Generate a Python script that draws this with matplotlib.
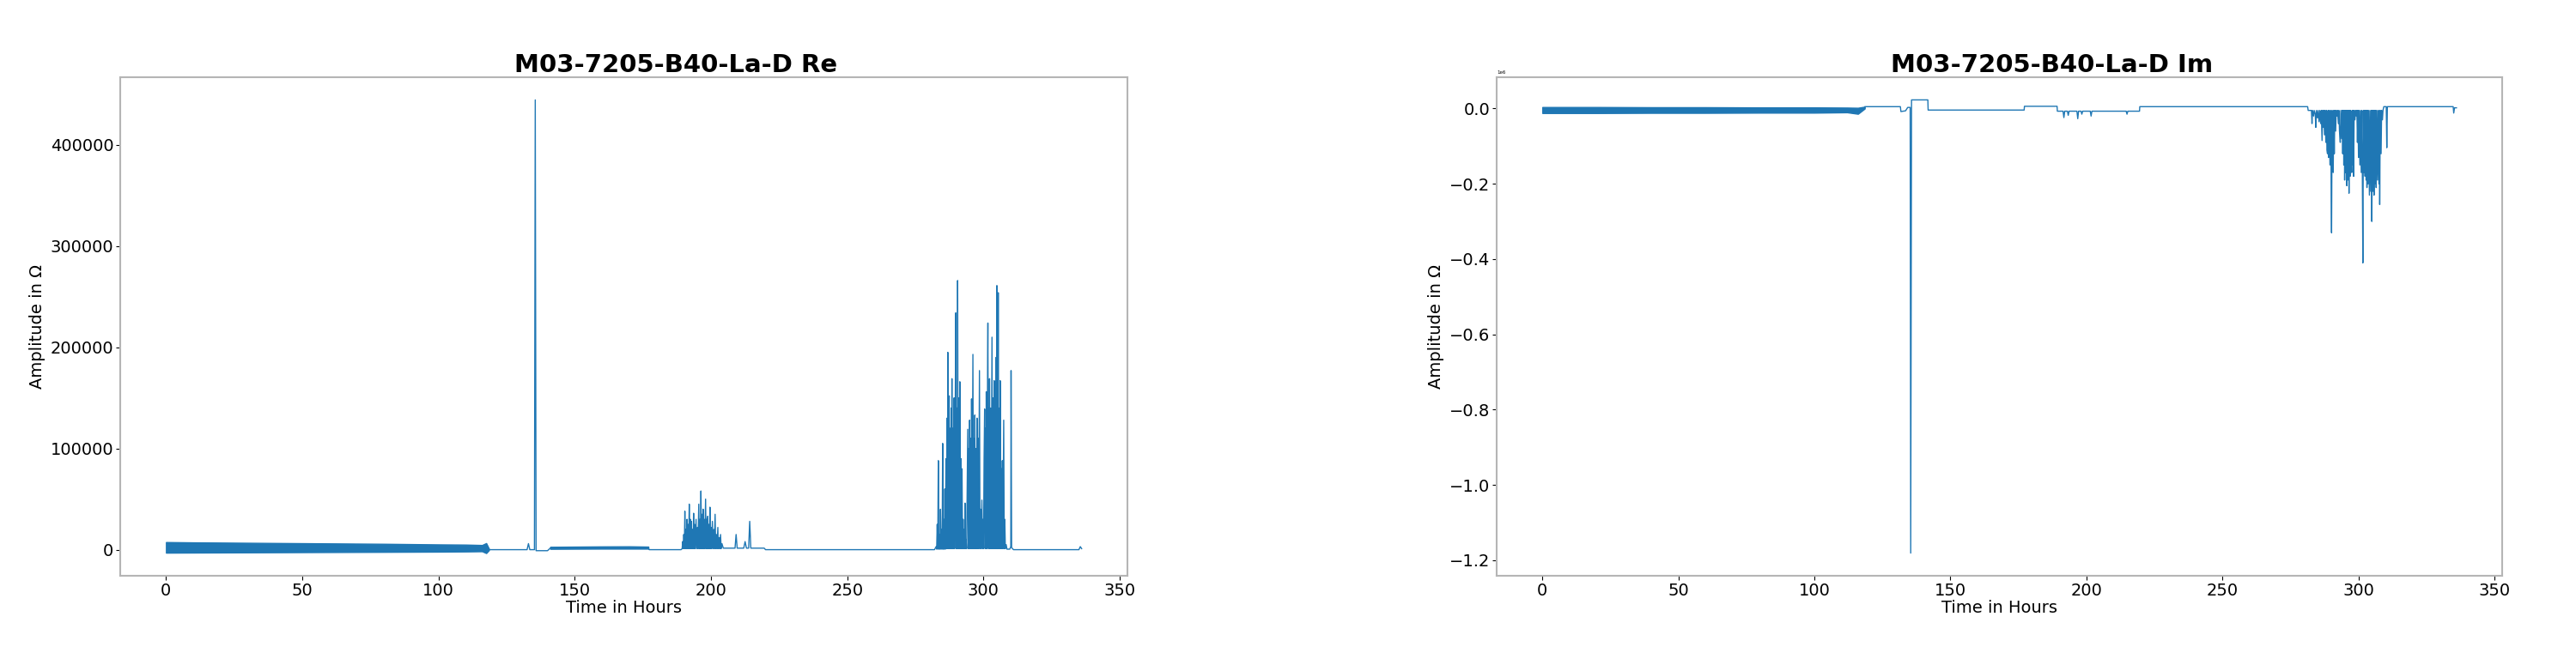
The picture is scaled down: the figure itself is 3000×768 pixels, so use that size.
import matplotlib
matplotlib.use("Agg")
import matplotlib.pyplot as plt

# ---------------- data (hours, Ohm) ----------------
# Re: dense oscillating band 0-118 h (envelope)
re_band_t  = [0, 10, 20, 30, 40, 50, 60, 70, 80, 90, 100, 110, 116, 117.5, 118.5]
re_band_hi = [7500, 7200, 7000, 6800, 6600, 6400, 6200, 6000, 5800, 5500, 5200, 5000, 4600, 6500, 1000]
re_band_lo = [-3000, -2900, -2800, -2700, -2600, -2500, -2400, -2300, -2200, -2100, -2000, -1800, -1600, -3400, -500]

# Re: low-noise band 141-177 h (envelope)
re_noise_t  = [141, 150, 160, 170, 177]
re_noise_hi = [2800, 3000, 3200, 3300, 3000]
re_noise_lo = [800, 900, 1000, 1000, 1000]

# Re: trace 118-189 h
re_a_t = [118.5, 132.5, 133.0, 133.5, 135.2, 135.5, 135.8, 140.0, 141.0, 177.0, 177.3, 189.0]
re_a_v = [0, 0, 6000, 0, 0, 444500, -1000, -1000, 1500, 1500, 0, 0]

# Re: burst 189-205 h
re_b_t = [189.4, 189.6, 189.8, 190.0, 190.2, 190.4, 190.6, 190.8, 191.0, 191.2, 191.4, 191.6,
          191.8, 192.0, 192.2, 192.4, 192.6, 192.8, 193.0, 193.2, 193.4, 193.6, 193.8, 194.0,
          194.2, 194.5, 194.7, 195.0, 195.2, 195.5, 195.7, 195.9, 196.1, 196.3, 196.5, 196.7,
          196.9, 197.1, 197.3, 197.5, 197.7, 198.0, 198.2, 198.4, 198.6, 198.8, 199.0, 199.2,
          199.4, 199.6, 199.8, 200.0, 200.2, 200.5, 200.7, 201.0, 201.2, 201.5, 201.7, 202.0,
          202.2, 202.5, 202.7, 203.0, 203.2, 203.5, 203.7, 204.0, 204.5]
re_b_v = [1000, 8000, 1000, 15000, 1000, 38000, 1000, 20000, 1000, 30000, 1000, 25000,
          1000, 45000, 1000, 30000, 1000, 28000, 1000, 20000, 1000, 36000, 1000, 25000,
          1000, 30000, 1000, 22000, 1000, 45000, 1000, 30000, 1000, 58000, 1000, 35000,
          1000, 40000, 1000, 30000, 1000, 50000, 1000, 30000, 1000, 33000, 1000, 25000,
          1000, 42000, 1000, 22000, 1000, 28000, 1000, 20000, 1000, 35000, 1000, 15000,
          1000, 22000, 1000, 12000, 1000, 15000, 1000, 6000, 1500]

# Re: 205-282 h
re_c_t = [208.8, 209.2, 209.6, 212.0, 212.5, 213.0, 213.8, 214.2, 214.6, 219.5, 220.0, 282.0]
re_c_v = [1500, 15000, 1500, 1500, 8000, 1500, 1500, 28000, 1500, 1500, 0, 0]

# Re: burst 282-311 h and tail
re_d_t = [282.6, 282.8, 283.0, 283.2, 283.4, 283.6, 283.8, 284.0, 284.2, 284.4, 284.6, 284.8,
          285.0, 285.2, 285.4, 285.6, 285.8, 286.0, 286.2, 286.4, 286.6, 286.8, 286.9, 287.0,
          287.2, 287.4, 287.5, 287.7, 287.9, 288.1, 288.2, 288.4, 288.6, 288.8, 289.0, 289.2,
          289.4, 289.6, 289.8, 290.0, 290.2, 290.4, 290.5, 290.7, 290.9, 291.1, 291.3, 291.5,
          291.7, 291.9, 292.1, 292.3, 292.5, 292.7, 292.9, 293.1, 293.2, 293.4, 293.6, 293.8,
          294.0, 294.2, 294.4, 294.6, 294.8, 294.9, 295.1, 295.3, 295.5, 295.6, 295.8, 296.0,
          296.1, 296.3, 296.5, 296.7, 296.8, 297.0, 297.2, 297.4, 297.6, 297.8, 298.0, 298.2,
          298.5, 298.7, 298.9, 299.1, 299.4, 299.6, 299.8, 300.0, 300.2, 300.4, 300.6, 300.7,
          300.9, 301.0, 301.2, 301.4, 301.6, 301.8, 301.9, 302.1, 302.2, 302.4, 302.6, 302.8,
          303.1, 303.3, 303.5, 303.7, 303.9, 304.1, 304.3, 304.5, 304.6, 304.8, 304.9, 305.0,
          305.1, 305.2, 305.4, 305.6, 305.8, 306.0, 306.1, 306.3, 306.5, 306.7, 306.9, 307.1,
          307.4, 307.6, 307.8, 308.0, 308.3, 308.6, 309.6, 310.0, 310.1, 310.3, 311.0, 335.0,
          335.5, 336.0]
re_d_v = [3000, 500, 25000, 500, 88000, 500, 15000, 500, 40000, 500, 20000, 500,
          105000, 500, 30000, 500, 60000, 500, 90000, 1000, 130000, 1000, 195000, 1000,
          110000, 152000, 1000, 120000, 1000, 140000, 1000, 169000, 1000, 120000, 1000, 150000,
          1000, 130000, 234000, 1000, 140000, 1000, 266000, 1000, 150000, 1000, 166000, 1000,
          90000, 1000, 80000, 1000, 30000, 1000, 20000, 1000, 46000, 1000, 10000, 1000,
          60000, 119000, 1000, 100000, 1000, 128000, 1000, 110000, 1000, 149000, 1000, 120000,
          193000, 1000, 110000, 1000, 133000, 1000, 100000, 1000, 130000, 1000, 110000, 1000,
          177000, 1000, 40000, 1000, 49000, 1000, 30000, 1000, 90000, 139000, 1000, 120000,
          1000, 156000, 1000, 130000, 224000, 1000, 140000, 1000, 169000, 1000, 140000, 1000,
          210000, 1000, 150000, 1000, 167000, 1000, 150000, 1000, 190000, 1000, 261000, 1000,
          160000, 1000, 254000, 1000, 140000, 1000, 167000, 1000, 80000, 1000, 88000, 1000,
          128000, 1000, 30000, 1000, 5000, 500, 500, 3000, 177000, 2000, 0, 0,
          3000, 1000]

# Im: band 0-118 h (envelope)
im_band_t  = [0, 20, 40, 60, 80, 100, 112, 116, 118.5]
im_band_hi = [4000, 4000, 3500, 3500, 3000, 3000, 2500, 2000, 5000]
im_band_lo = [-12000, -12000, -11500, -11500, -11000, -11000, -10000, -14000, 0]

# Im: trace 118-281 h
im_a_t = [118.6, 131.6, 131.8, 133.5, 134.3, 135.2, 135.4, 135.7, 141.7, 141.8, 177.1, 177.2,
          189.2, 189.3, 191.4, 191.7, 192.0, 193.0, 193.3, 193.6, 196.5, 196.8, 197.1, 198.0,
          198.3, 198.6, 201.4, 201.7, 202.0, 214.6, 214.9, 215.2, 219.5, 219.6, 281.3]
im_a_v = [5000, 5000, -8000, -6000, 3000, 3000, -1181000, 23000, 23000, -4000, -4000, 6000,
          6000, -7000, -7000, -24000, -7000, -7000, -18000, -7000, -7000, -27000, -7000, -7000,
          -15000, -7000, -7000, -20000, -7000, -7000, -15000, -7000, -7000, 5000, 5000]

# Im: burst 281-311 h and tail
im_b_t = [281.5, 282.7, 282.9, 283.1, 283.5, 283.7, 284.1, 284.3, 284.5, 284.9, 285.1, 285.5,
          285.7, 286.1, 286.3, 286.6, 286.8, 287.0, 287.2, 287.5, 287.7, 288.0, 288.2, 288.4,
          288.6, 288.8, 289.0, 289.2, 289.5, 289.7, 289.9, 290.1, 290.3, 290.5, 290.7, 290.9,
          291.1, 291.3, 291.6, 291.8, 292.1, 292.3, 292.6, 292.8, 293.0, 293.3, 293.5, 293.8,
          294.0, 294.2, 294.4, 294.6, 294.8, 294.9, 295.1, 295.3, 295.5, 295.7, 295.9, 296.1,
          296.3, 296.5, 296.7, 296.9, 297.1, 297.3, 297.5, 297.7, 297.9, 298.1, 298.2, 298.4,
          298.7, 298.9, 299.2, 299.4, 299.6, 299.8, 300.0, 300.2, 300.5, 300.7, 301.0, 301.2,
          301.4, 301.6, 301.8, 302.0, 302.2, 302.4, 302.6, 302.8, 303.0, 303.1, 303.3, 303.5,
          303.7, 304.0, 304.2, 304.5, 304.7, 304.9, 305.1, 305.3, 305.5, 305.7, 305.9, 306.1,
          306.3, 306.5, 306.7, 307.0, 307.2, 307.5, 307.7, 307.8, 308.0, 308.3, 308.5, 308.8,
          309.0, 309.3, 310.2, 310.4, 310.6, 334.8, 335.0, 335.3, 336.0]
im_b_v = [-5000, -5000, -40000, -5000, -20000, -5000, -15000, -50000, -5000, -25000, -5000, -35000,
          -5000, -40000, -5000, -85000, -5000, -50000, -5000, -70000, -5000, -90000, -5000, -110000,
          -120000, -5000, -130000, -5000, -150000, -5000, -140000, -330000, -5000, -160000, -170000, -5000,
          -120000, -5000, -60000, -5000, -20000, -5000, -40000, -5000, -60000, -90000, -5000, -80000,
          -5000, -120000, -5000, -150000, -5000, -190000, -5000, -170000, -5000, -205000, -5000, -190000,
          -5000, -225000, -5000, -180000, -5000, -120000, -170000, -5000, -150000, -5000, -180000, -5000,
          -30000, -5000, -20000, -5000, -90000, -5000, -130000, -5000, -150000, -5000, -170000, -5000,
          -160000, -410000, -5000, -170000, -5000, -180000, -5000, -190000, -5000, -210000, -5000, -200000,
          -5000, -230000, -5000, -220000, -5000, -300000, -5000, -220000, -5000, -230000, -5000, -200000,
          -5000, -210000, -5000, -190000, -5000, -200000, -5000, -255000, -5000, -120000, -5000, -30000,
          -5000, 5000, 5000, -104000, 5000, 5000, -12000, 2000, 2000]

titles = ["M03-7205-B40-La-D Re", "M03-7205-B40-La-D Im"]
xlabel = "Time in Hours"
ylabel = "Amplitude in \u03a9"
xticks = [0, 50, 100, 150, 200, 250, 300, 350]
re_yticks = [0, 100000, 200000, 300000, 400000]

# ---------------- figure ----------------
C = "#1f77b4"
plt.rcParams["font.size"] = 14
fig = plt.figure(figsize=(30, 7.68), dpi=100)
ax1 = fig.add_axes([140 / 3000, 97 / 768, 1173 / 3000, 581 / 768])
ax2 = fig.add_axes([1743 / 3000, 97 / 768, 1171 / 3000, 581 / 768])

lw = 1.0
# Re
ax1.fill_between(re_band_t, re_band_lo, re_band_hi, color=C, lw=lw)
ax1.fill_between(re_noise_t, re_noise_lo, re_noise_hi, color=C, lw=lw)
re_t = re_a_t + re_b_t + re_c_t + re_d_t
re_v = re_a_v + re_b_v + re_c_v + re_d_v
ax1.plot(re_t, re_v, color=C, lw=lw)

# Im
ax2.fill_between(im_band_t, im_band_lo, im_band_hi, color=C, lw=lw)
im_t = im_a_t + im_b_t
im_v = im_a_v + im_b_v
ax2.plot(im_t, im_v, color=C, lw=lw)

for ax, title in zip([ax1, ax2], titles):
    ax.set_title(title, fontsize=21, fontweight="bold", x=0.552, pad=3)
    ax.set_xlabel(xlabel, fontsize=14, labelpad=1)
    ax.set_ylabel(ylabel, fontsize=14)
    ax.set_xticks(xticks)
    ax.tick_params(labelsize=14, pad=2)
    for s in ax.spines.values():
        s.set_color("#b5b5b5")
        s.set_linewidth(1.5)

ax1.set_yticks(re_yticks)
ax1.ticklabel_format(axis="y", style="plain")
ax2.yaxis.get_offset_text().set_fontsize(4)

fig.savefig("out.png", dpi=100)
